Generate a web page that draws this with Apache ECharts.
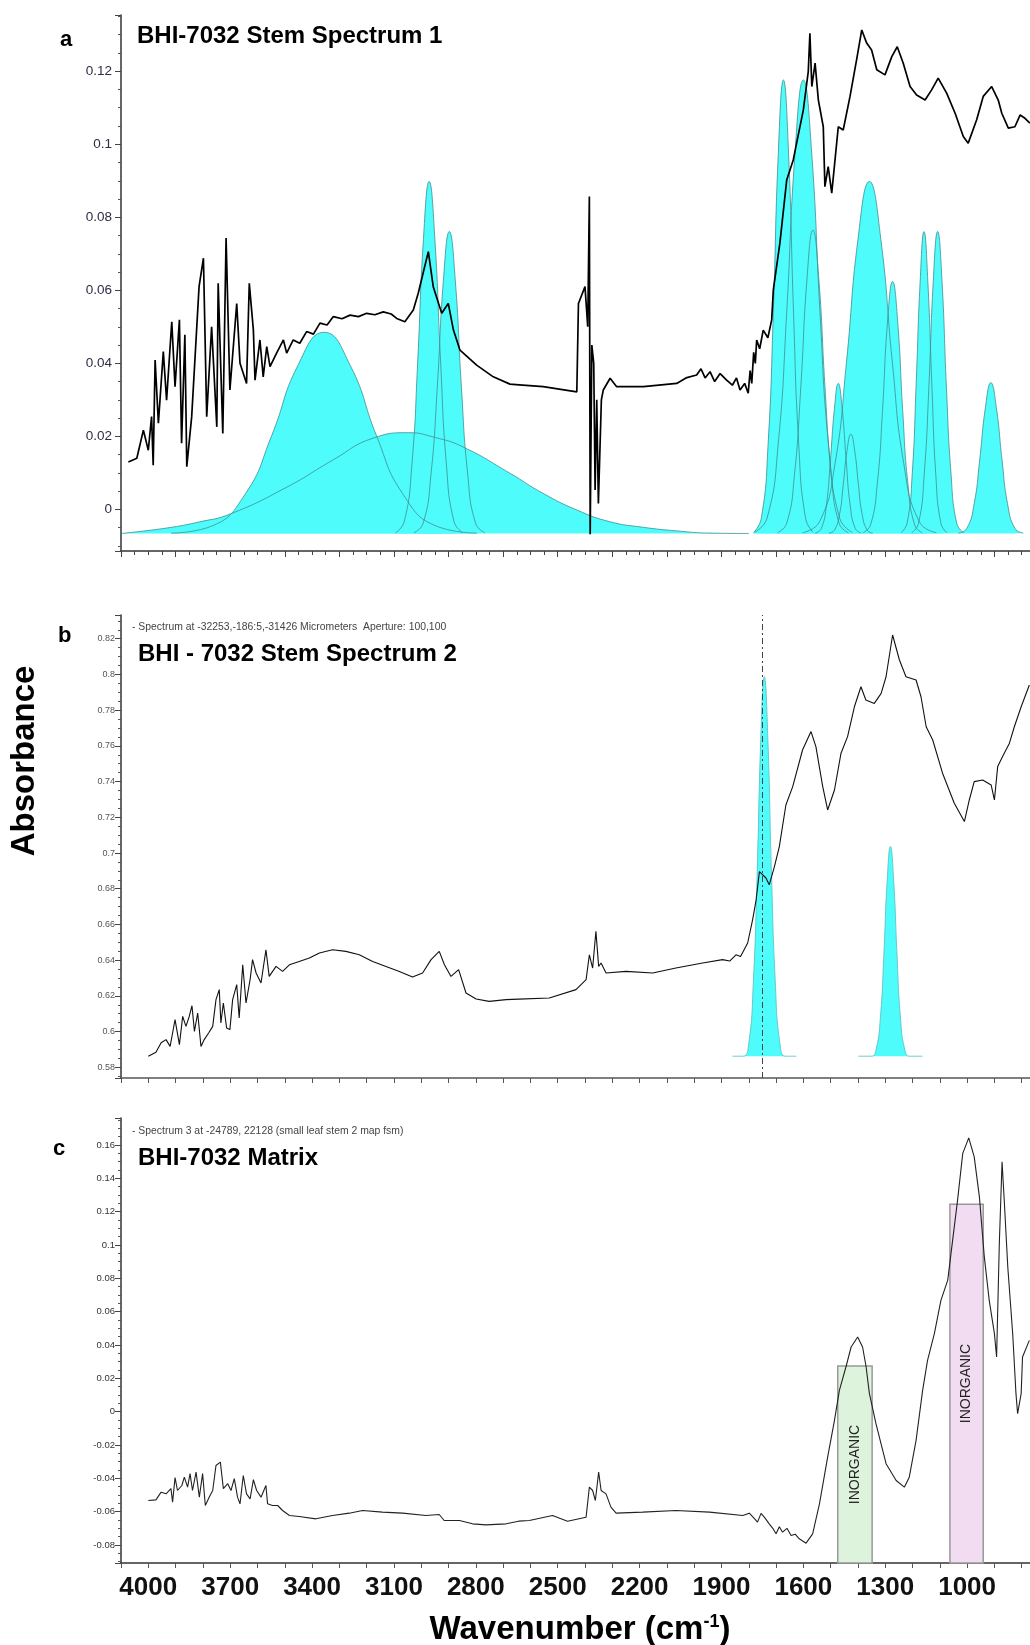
<!DOCTYPE html>
<html>
<head>
<meta charset="utf-8">
<title>BHI-7032 FTIR spectra</title>
<script src="https://cdn.jsdelivr.net/npm/echarts@6/dist/echarts.min.js"></script>
<style>
html,body{margin:0;padding:0;background:#fff;}
#echartsMain{width:1030px;height:1645px;}
</style>
</head>
<body>
<div id="echartsMain"></div>
<script>
// axis ranges (wavenumber axis runs right to left)
var xRange = [700, 4100];
var xLabels = [4000, 3700, 3400, 3100, 2800, 2500, 2200, 1900, 1600, 1300, 1000];
var yRangeA = [-0.0114, 0.1354];
var yRangeB = [0.574, 0.8333];
var yRangeC = [-0.0908, 0.1762];

// panel a : measured spectrum [wavenumber, absorbance]
var spectrumA = [[4073,0.0130],[4042,0.0140],[4018,0.0217],[4000,0.0162],[3988,0.0254],[3982,0.0121],[3975,0.0409],[3963,0.0236],[3945,0.0432],[3933,0.0299],[3914,0.0514],[3902,0.0336],[3886,0.0519],[3878,0.0181],[3866,0.0478],[3859,0.0117],[3841,0.0254],[3814,0.0610],[3798,0.0688],[3786,0.0254],[3768,0.0500],[3749,0.0226],[3744,0.0619],[3727,0.0208],[3715,0.0743],[3701,0.0327],[3676,0.0564],[3664,0.0400],[3640,0.0345],[3630,0.0619],[3615,0.0491],[3609,0.0354],[3591,0.0464],[3579,0.0363],[3566,0.0446],[3554,0.0391],[3530,0.0428],[3505,0.0464],[3493,0.0428],[3469,0.0464],[3445,0.0455],[3420,0.0487],[3395,0.0480],[3371,0.0510],[3345,0.0505],[3322,0.0528],[3290,0.0522],[3261,0.0532],[3230,0.0528],[3200,0.0537],[3170,0.0533],[3139,0.0541],[3110,0.0535],[3090,0.0523],[3060,0.0514],[3029,0.0546],[3011,0.0592],[2974,0.0706],[2956,0.0610],[2925,0.0537],[2901,0.0564],[2882,0.0491],[2858,0.0436],[2797,0.0395],[2736,0.0363],[2675,0.0343],[2641,0.0341],[2553,0.0336],[2430,0.0322],[2424,0.0564],[2400,0.0610],[2390,0.0500],[2384,0.0857],[2381,-0.0068],[2375,0.0450],[2368,0.0400],[2363,0.0053],[2357,0.0300],[2351,0.0016],[2340,0.0300],[2333,0.0327],[2308,0.0359],[2284,0.0336],[2186,0.0336],[2064,0.0345],[2030,0.0360],[1991,0.0368],[1975,0.0385],[1960,0.0360],[1942,0.0377],[1925,0.0350],[1905,0.0372],[1881,0.0354],[1860,0.0340],[1845,0.0360],[1832,0.0327],[1815,0.0345],[1802,0.0318],[1795,0.0380],[1789,0.0345],[1782,0.0430],[1776,0.0400],[1771,0.0464],[1760,0.0440],[1747,0.0491],[1730,0.0470],[1716,0.0519],[1710,0.0601],[1686,0.0729],[1661,0.0902],[1637,0.0957],[1600,0.1094],[1582,0.1199],[1576,0.1304],[1569,0.1158],[1557,0.1222],[1545,0.1121],[1527,0.1048],[1521,0.0884],[1509,0.0939],[1496,0.0866],[1472,0.1048],[1454,0.1039],[1429,0.1131],[1405,0.1231],[1386,0.1313],[1368,0.1277],[1350,0.1258],[1331,0.1204],[1301,0.1190],[1276,0.1240],[1256,0.1267],[1234,0.1222],[1209,0.1158],[1185,0.1135],[1154,0.1121],[1130,0.1149],[1106,0.1181],[1075,0.1140],[1044,0.1085],[1014,0.1021],[996,0.1003],[965,0.1067],[941,0.1131],[910,0.1158],[886,0.1121],[873,0.1085],[849,0.1044],[825,0.1048],[806,0.1080],[788,0.1071],[770,0.1058]];

// panel a : fitted component bands
var bandA3356 = [[3916,-0.0065],[3772,-0.0047],[3644,0.0043],[3548,0.0202],[3452,0.0394],[3356,0.0485],[3260,0.0394],[3164,0.0202],[3068,0.0043],[2940,-0.0047],[2796,-0.0065]];
var bandA3048 = [[4100,-0.0066],[3932,-0.0051],[3811,-0.0034],[3701,-0.0013],[3492,0.0061],[3324,0.0135],[3177,0.0195],[3048,0.0210],[2950,0.0197],[2847,0.0171],[2675,0.0099],[2554,0.0044],[2429,-0.0002],[2308,-0.0034],[2187,-0.0049],[2063,-0.0059],[1942,-0.0065],[1800,-0.0066]];
var bandA2971 = [[3094,-0.0064],[3062,-0.0033],[3034,0.0125],[3013,0.0403],[2992,0.0739],[2971,0.0898],[2950,0.0739],[2929,0.0403],[2908,0.0125],[2880,-0.0033],[2848,-0.0064]];
var bandA2897 = [[3027,-0.0064],[2993,-0.0038],[2964,0.0098],[2941,0.0337],[2919,0.0625],[2897,0.0761],[2875,0.0625],[2853,0.0337],[2830,0.0098],[2801,-0.0038],[2767,-0.0064]];
var bandA1673 = [[1782,-0.0063],[1754,-0.0024],[1729,0.0180],[1710,0.0539],[1692,0.0971],[1673,0.1176],[1654,0.0971],[1636,0.0539],[1617,0.0180],[1592,-0.0024],[1564,-0.0063]];
var bandA1600 = [[1779,-0.0063],[1733,-0.0024],[1692,0.0180],[1661,0.0539],[1631,0.0971],[1600,0.1176],[1569,0.0971],[1539,0.0539],[1508,0.0180],[1467,-0.0024],[1421,-0.0063]];
var bandA1565 = [[1695,-0.0064],[1661,-0.0038],[1632,0.0099],[1609,0.0339],[1587,0.0628],[1565,0.0765],[1543,0.0628],[1521,0.0339],[1498,0.0099],[1469,-0.0038],[1435,-0.0064]];
var bandA1472 = [[1556,-0.0065],[1534,-0.0052],[1515,0.0015],[1501,0.0134],[1486,0.0277],[1472,0.0345],[1458,0.0277],[1443,0.0134],[1429,0.0015],[1410,-0.0052],[1388,-0.0065]];
var bandA1426 = [[1506,-0.0065],[1486,-0.0057],[1467,-0.0012],[1454,0.0066],[1440,0.0161],[1426,0.0206],[1412,0.0161],[1398,0.0066],[1385,-0.0012],[1366,-0.0057],[1346,-0.0065]];
var bandA1358 = [[1603,-0.0064],[1540,-0.0033],[1484,0.0125],[1442,0.0403],[1400,0.0739],[1358,0.0898],[1316,0.0739],[1274,0.0403],[1232,0.0125],[1176,-0.0033],[1113,-0.0064]];
var bandA1273 = [[1382,-0.0064],[1354,-0.0043],[1329,0.0071],[1310,0.0270],[1292,0.0510],[1273,0.0624],[1254,0.0510],[1236,0.0270],[1217,0.0071],[1192,-0.0043],[1164,-0.0064]];
var bandA1158 = [[1242,-0.0064],[1220,-0.0038],[1201,0.0098],[1187,0.0337],[1172,0.0625],[1158,0.0761],[1144,0.0625],[1129,0.0337],[1115,0.0098],[1096,-0.0038],[1074,-0.0064]];
var bandA1108 = [[1203,-0.0064],[1178,-0.0038],[1157,0.0098],[1140,0.0337],[1124,0.0625],[1108,0.0761],[1092,0.0625],[1076,0.0337],[1059,0.0098],[1038,-0.0038],[1013,-0.0064]];
var bandA913 = [[1032,-0.0065],[1001,-0.0052],[974,0.0016],[954,0.0135],[933,0.0279],[913,0.0347],[893,0.0279],[872,0.0135],[852,0.0016],[825,-0.0052],[794,-0.0065]];
var baseA = -0.0066;

// panel b : measured spectrum
var spectrumB = [[4000,0.5862],[3972,0.5884],[3953,0.5937],[3935,0.5955],[3920,0.5917],[3911,0.5992],[3902,0.6067],[3886,0.5927],[3874,0.6085],[3862,0.6029],[3850,0.6085],[3840,0.6145],[3831,0.6001],[3819,0.6104],[3807,0.5917],[3795,0.5955],[3779,0.5992],[3764,0.6029],[3752,0.6179],[3740,0.6235],[3734,0.6048],[3725,0.6160],[3713,0.6020],[3701,0.6011],[3691,0.6179],[3676,0.6263],[3667,0.6076],[3654,0.6374],[3642,0.6160],[3627,0.6291],[3618,0.6403],[3605,0.6328],[3587,0.6272],[3569,0.6458],[3557,0.6309],[3532,0.6365],[3508,0.6337],[3483,0.6374],[3447,0.6393],[3410,0.6412],[3373,0.6440],[3325,0.6458],[3276,0.6449],[3227,0.6430],[3178,0.6393],[3129,0.6365],[3080,0.6337],[3032,0.6306],[2995,0.6328],[2964,0.6403],[2934,0.6449],[2915,0.6374],[2891,0.6309],[2863,0.6347],[2836,0.6216],[2799,0.6182],[2751,0.6169],[2689,0.6179],[2643,0.6182],[2531,0.6188],[2433,0.6235],[2396,0.6291],[2384,0.6430],[2372,0.6356],[2360,0.6561],[2350,0.6365],[2341,0.6384],[2323,0.6328],[2250,0.6337],[2152,0.6328],[2067,0.6356],[1969,0.6384],[1896,0.6403],[1870,0.6395],[1847,0.6430],[1830,0.6420],[1804,0.6496],[1786,0.6626],[1773,0.6738],[1761,0.6896],[1737,0.6860],[1725,0.6822],[1706,0.6924],[1688,0.7036],[1664,0.7269],[1639,0.7372],[1603,0.7577],[1572,0.7680],[1554,0.7596],[1529,0.7372],[1511,0.7241],[1486,0.7353],[1462,0.7559],[1438,0.7652],[1413,0.7819],[1389,0.7931],[1371,0.7857],[1340,0.7838],[1315,0.7894],[1297,0.7987],[1273,0.8221],[1248,0.8081],[1224,0.7987],[1187,0.7969],[1169,0.7875],[1150,0.7707],[1126,0.7633],[1090,0.7447],[1047,0.7279],[1010,0.7176],[992,0.7297],[974,0.7400],[943,0.7409],[912,0.7381],[900,0.7297],[888,0.7484],[870,0.7540],[845,0.7615],[827,0.7707],[802,0.7819],[772,0.7941]];

// panel b : fitted bands and the marked position
var bandB1743 = [[1860,0.5862],[1820,0.5862],[1800,0.5934],[1783,0.6283],[1769,0.6897],[1756,0.7636],[1743,0.7987],[1730,0.7636],[1717,0.6897],[1703,0.6283],[1686,0.5934],[1666,0.5862],[1626,0.5862]];
var bandB1281 = [[1399,0.5862],[1351,0.5862],[1333,0.5902],[1317,0.6094],[1305,0.6434],[1293,0.6842],[1281,0.7036],[1269,0.6842],[1257,0.6434],[1245,0.6094],[1229,0.5902],[1211,0.5862],[1163,0.5862]];
var baseB = 0.5862;
var cursorB = 1749;

// panel c : measured spectrum
var spectrumC = [[4000,-0.0533],[3972,-0.0529],[3953,-0.0483],[3935,-0.0493],[3917,-0.0462],[3911,-0.0543],[3902,-0.0396],[3893,-0.0473],[3877,-0.0443],[3868,-0.0393],[3856,-0.0453],[3847,-0.0372],[3838,-0.0473],[3825,-0.0363],[3813,-0.0513],[3801,-0.0372],[3791,-0.0563],[3777,-0.0513],[3764,-0.0473],[3752,-0.0323],[3736,-0.0303],[3725,-0.0462],[3709,-0.0432],[3697,-0.0473],[3685,-0.0402],[3673,-0.0513],[3664,-0.0553],[3652,-0.0383],[3640,-0.0493],[3627,-0.0523],[3615,-0.0408],[3603,-0.0473],[3587,-0.0513],[3569,-0.0443],[3563,-0.0553],[3545,-0.0563],[3526,-0.0563],[3508,-0.0593],[3483,-0.0623],[3447,-0.0629],[3386,-0.0643],[3325,-0.0623],[3264,-0.0609],[3215,-0.0593],[3142,-0.0603],[3068,-0.0609],[2983,-0.0623],[2934,-0.0617],[2916,-0.0653],[2860,-0.0653],[2812,-0.0673],[2763,-0.0679],[2689,-0.0673],[2643,-0.0657],[2604,-0.0653],[2519,-0.0623],[2464,-0.0657],[2396,-0.0633],[2384,-0.0453],[2372,-0.0473],[2362,-0.0533],[2350,-0.0363],[2341,-0.0473],[2323,-0.0493],[2305,-0.0573],[2286,-0.0609],[2189,-0.0603],[2067,-0.0593],[1944,-0.0603],[1822,-0.0623],[1798,-0.0609],[1780,-0.0640],[1768,-0.0663],[1755,-0.0610],[1743,-0.0633],[1725,-0.0673],[1712,-0.0700],[1700,-0.0733],[1688,-0.0690],[1676,-0.0723],[1660,-0.0700],[1645,-0.0743],[1630,-0.0735],[1615,-0.0763],[1590,-0.0789],[1566,-0.0733],[1541,-0.0553],[1511,-0.0273],[1486,-0.0052],[1468,0.0128],[1444,0.0268],[1425,0.0388],[1401,0.0448],[1383,0.0388],[1370,0.0268],[1358,0.0108],[1334,-0.0072],[1297,-0.0312],[1260,-0.0413],[1230,-0.0453],[1212,-0.0393],[1187,-0.0172],[1163,0.0128],[1145,0.0308],[1120,0.0468],[1096,0.0668],[1071,0.0789],[1053,0.1029],[1035,0.1269],[1016,0.1550],[994,0.1643],[974,0.1529],[955,0.1289],[937,0.0929],[919,0.0668],[900,0.0468],[892,0.0328],[882,0.1009],[872,0.1499],[864,0.1269],[851,0.0868],[833,0.0468],[821,0.0108],[815,-0.0012],[802,0.0108],[797,0.0328],[772,0.0428]];

// panel c : inorganic regions [high wavenumber, low wavenumber, top absorbance]
var inorganicBands = [[1474, 1348, 0.0274], [1063, 941, 0.1245]];
var inorganicText = 'INORGANIC';

var bandsA = [bandA3048, bandA3356, bandA2971, bandA2897, bandA1673, bandA1600, bandA1565, bandA1472, bandA1426, bandA1358, bandA1273, bandA1158, bandA1108, bandA913];
var bandsB = [bandB1743, bandB1281];

var FONT = '"Liberation Sans", Arial, Helvetica, sans-serif';
var CYAN = '#4efcfc';

var myChart = echarts.init(document.getElementById('echartsMain'));

// only print ticks that fall on 0.02 steps
function yLabel(v) {
	var k = v / 0.02;
	if (Math.abs(k - Math.round(k)) > 1e-6) return '';
	return String(Math.round(v * 1000) / 1000);
}

function xAxisFor(idx, opts) {
	var ax = {
		type: 'value', gridIndex: idx, inverse: true,
		min: xRange[0], max: xRange[1],
		splitLine: { show: false },
		axisLine: { onZero: false, lineStyle: { color: '#333', width: 1.5 } },
		axisTick: { length: 6, lineStyle: { color: '#444' } },
		axisLabel: { show: false }
	};
	return Object.assign(ax, opts);
}

function yAxisFor(idx, range, split, labelStyle) {
	return {
		type: 'value', gridIndex: idx,
		min: range[0], max: range[1], splitNumber: split,
		splitLine: { show: false },
		axisLine: { show: true, onZero: false, lineStyle: { color: '#333', width: 1.5 } },
		axisTick: { show: true, length: 6, lineStyle: { color: '#444' } },
		minorTick: { show: true, splitNumber: 4, length: 3, lineStyle: { color: '#555' } },
		axisLabel: Object.assign({ formatter: yLabel, fontFamily: FONT }, labelStyle)
	};
}

var series = [];
// band fills first, outlines above them, spectra on top
bandsA.forEach(function (b) {
	series.push({ type: 'line', xAxisIndex: 0, yAxisIndex: 0, data: b, smooth: 0.5, symbol: 'none',
		lineStyle: { width: 0, opacity: 0 }, areaStyle: { color: CYAN, opacity: 1, origin: baseA }, z: 1, silent: true });
});
bandsA.forEach(function (b) {
	series.push({ type: 'line', xAxisIndex: 0, yAxisIndex: 0, data: b, smooth: 0.5, symbol: 'none',
		lineStyle: { width: 0.8, color: '#3f8e90' }, z: 2, silent: true });
});
bandsB.forEach(function (b) {
	series.push({ type: 'line', xAxisIndex: 1, yAxisIndex: 1, data: b, smooth: 0.5, symbol: 'none',
		lineStyle: { width: 0.9, color: '#5cc4c6' }, areaStyle: { color: CYAN, opacity: 1, origin: baseB }, z: 1, silent: true });
});

series.push({ name: 'spectrum a', type: 'line', xAxisIndex: 0, yAxisIndex: 0, data: spectrumA, symbol: 'none',
	lineStyle: { color: '#000', width: 1.7 }, z: 3 });

series.push({ name: 'spectrum b', type: 'line', xAxisIndex: 1, yAxisIndex: 1, data: spectrumB, symbol: 'none',
	lineStyle: { color: '#111', width: 1.1 }, z: 3,
	markLine: { symbol: 'none', silent: true, label: { show: false },
		lineStyle: { color: '#444', width: 1, type: [6, 3, 2, 3] },
		data: [{ xAxis: cursorB }] } });

series.push({ name: 'spectrum c', type: 'line', xAxisIndex: 2, yAxisIndex: 2, data: spectrumC, symbol: 'none',
	lineStyle: { color: '#222', width: 1.1 }, z: 3,
	markArea: { silent: true,
		label: { show: true, position: 'inside', rotate: 90, formatter: inorganicText, color: '#222', fontSize: 14, fontFamily: FONT },
		data: inorganicBands.map(function (r, i) {
			return [
				{ xAxis: r[0], yAxis: yRangeC[0], itemStyle: { color: i === 0 ? '#ddf3dc' : '#f1dcf1', borderColor: '#999', borderWidth: 1.5 } },
				{ xAxis: r[1], yAxis: r[2] }
			];
		}) } });

var option = {
	animation: false,
	backgroundColor: '#fff',
	grid: [
		{ left: 121, top: 15, width: 928, height: 536, outerBoundsMode: 'none', containLabel: false },
		{ left: 121, top: 615, width: 928, height: 463, outerBoundsMode: 'none', containLabel: false },
		{ left: 121, top: 1118, width: 928, height: 445, outerBoundsMode: 'none', containLabel: false }
	],
	xAxis: [
		xAxisFor(0, { interval: 200, minorTick: { show: true, splitNumber: 4, length: 4, lineStyle: { color: '#444' } } }),
		xAxisFor(1, { interval: 100, axisTick: { length: 5, lineStyle: { color: '#555' } }, axisLine: { onZero: false, lineStyle: { color: '#555', width: 1.5 } } }),
		xAxisFor(2, { interval: 300,
			axisTick: { length: 5, lineStyle: { color: '#555' } },
			minorTick: { show: true, splitNumber: 3, length: 5, lineStyle: { color: '#555' } },
			axisLabel: { show: true, margin: 12, fontSize: 26, fontWeight: 'bold', color: '#111', fontFamily: FONT,
				formatter: function (v) { return xLabels.indexOf(v) >= 0 ? String(v) : ''; } } })
	],
	yAxis: [
		yAxisFor(0, yRangeA, 7, { fontSize: 13.5, color: '#2d2d45', margin: 9 }),
		yAxisFor(1, yRangeB, 13, { fontSize: 9, color: '#555', margin: 6 }),
		yAxisFor(2, yRangeC, 13, { fontSize: 9.5, color: '#333', margin: 6 })
	],
	graphic: [
		{ type: 'text', x: 60, y: 40, style: { text: 'a', font: 'bold 22px ' + FONT, fill: '#000', verticalAlign: 'middle' } },
		{ type: 'text', x: 137, y: 36, style: { text: 'BHI-7032 Stem Spectrum 1', font: 'bold 24px ' + FONT, fill: '#000', verticalAlign: 'middle' } },
		{ type: 'text', x: 58, y: 636, style: { text: 'b', font: 'bold 22px ' + FONT, fill: '#000', verticalAlign: 'middle' } },
		{ type: 'text', x: 132, y: 627, style: { text: '- Spectrum at -32253,-186:5,-31426 Micrometers  Aperture: 100,100', font: '10.4px ' + FONT, fill: '#444', verticalAlign: 'middle' } },
		{ type: 'text', x: 138, y: 654, style: { text: 'BHI - 7032 Stem Spectrum 2', font: 'bold 24px ' + FONT, fill: '#000', verticalAlign: 'middle' } },
		{ type: 'text', x: 53, y: 1149, style: { text: 'c', font: 'bold 22px ' + FONT, fill: '#000', verticalAlign: 'middle' } },
		{ type: 'text', x: 132, y: 1131, style: { text: '- Spectrum 3 at -24789, 22128 (small leaf stem 2 map fsm)', font: '10.4px ' + FONT, fill: '#444', verticalAlign: 'middle' } },
		{ type: 'text', x: 138, y: 1158, style: { text: 'BHI-7032 Matrix', font: 'bold 24px ' + FONT, fill: '#000', verticalAlign: 'middle' } },
		{ type: 'text', x: 25, y: 761, rotation: Math.PI / 2, style: { text: 'Absorbance', font: 'bold 33px ' + FONT, fill: '#000', align: 'center', verticalAlign: 'middle' } },
		{ type: 'text', x: 580, y: 1630, style: { text: 'Wavenumber (cm{sup|-1})', font: 'bold 33px ' + FONT, fill: '#000', align: 'center', verticalAlign: 'middle',
			rich: { sup: { fontSize: 18, fontWeight: 'bold', fontFamily: FONT, verticalAlign: 'top', padding: [0, 0, 14, 0] } } } }
	],
	series: series
};

myChart.setOption(option);
</script>
</body>
</html>
